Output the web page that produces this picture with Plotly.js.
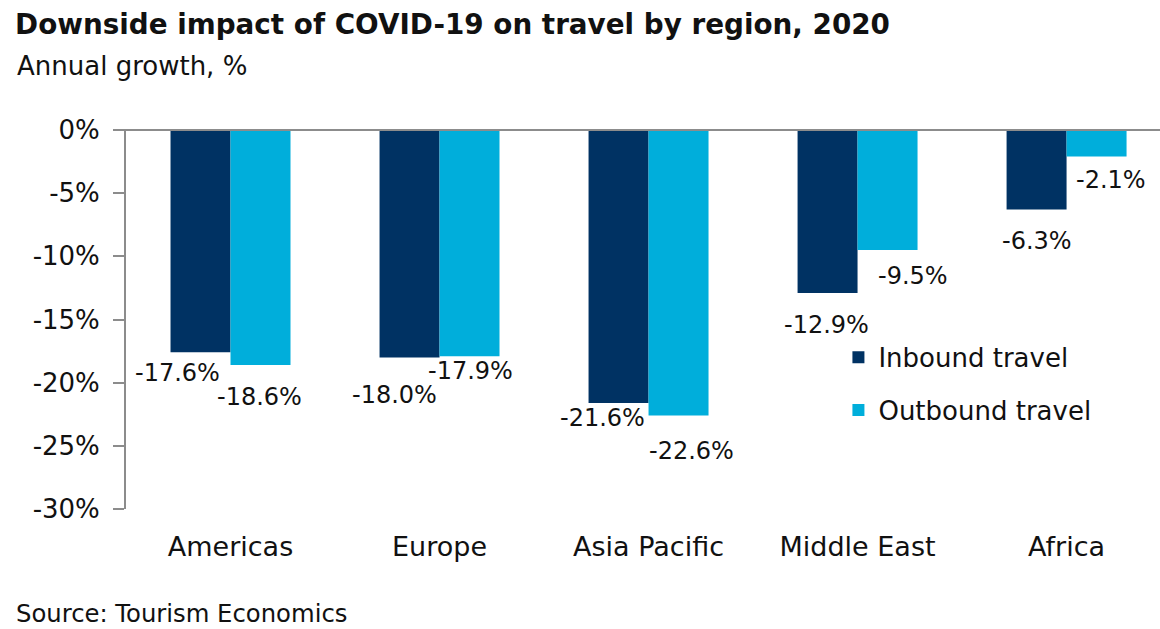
<!DOCTYPE html>
<html>
<head>
<meta charset="utf-8">
<script src="https://cdn.plot.ly/plotly-3.0.1.min.js"></script>
<style>html,body{margin:0;padding:0;background:#fff;}#chart{width:1160px;height:629px;}</style>
</head>
<body>
<div id="chart"></div>
<script>
// ---- data ----
const regions = ["Americas", "Europe", "Asia Pacific", "Middle East", "Africa"];
const inbound = [-17.6, -18.0, -21.6, -12.9, -6.3];
const outbound = [-18.6, -17.9, -22.6, -9.5, -2.1];
const inboundLabels = ["-17.6%", "-18.0%", "-21.6%", "-12.9%", "-6.3%"];
const outboundLabels = ["-18.6%", "-17.9%", "-22.6%", "-9.5%", "-2.1%"];
const yTickVals = [0, -5, -10, -15, -20, -25, -30];
const yTickText = ["0%", "-5%", "-10%", "-15%", "-20%", "-25%", "-30%"];

// ---- styles / label offsets (pixels) ----
const FONT = "DejaVu Sans, Liberation Sans, Arial, sans-serif";
const TXT = "#111111";
const C_IN = "#003263";
const C_OUT = "#00AEDB";
const GRID = "#8c8c8c";
const inOffsets = [[-53, -21], [-45, -38], [-46, -15], [-31, -32], [-30, -31]];
const outOffsets = [[29, -32], [31, -15], [43, -35], [55, -26], [44, -23]];

const traces = [
  {type: "bar", name: "Inbound travel", x: regions, y: inbound, marker: {color: C_IN}, legendgroup: "a", hoverinfo: "none"},
  {type: "bar", name: "Outbound travel", x: regions, y: outbound, marker: {color: C_OUT}, legendgroup: "b", hoverinfo: "none"}
];

const annotations = [];
regions.forEach((r, i) => {
  annotations.push({x: r, y: inbound[i], xref: "x", yref: "y", text: inboundLabels[i], showarrow: false,
    xanchor: "center", yanchor: "middle", xshift: inOffsets[i][0], yshift: inOffsets[i][1],
    font: {family: FONT, size: 24, color: TXT}});
  annotations.push({x: r, y: outbound[i], xref: "x", yref: "y", text: outboundLabels[i], showarrow: false,
    xanchor: "center", yanchor: "middle", xshift: outOffsets[i][0], yshift: outOffsets[i][1],
    font: {family: FONT, size: 24, color: TXT}});
});
annotations.push({xref: "paper", yref: "paper", x: -0.1073, y: 1.169, xanchor: "left", yanchor: "middle",
  text: "Annual growth, %", showarrow: false, font: {family: FONT, size: 26, color: TXT}});
annotations.push({xref: "paper", yref: "paper", x: -0.1073, y: -0.275, xanchor: "left", yanchor: "middle",
  text: "Source: Tourism Economics", showarrow: false, borderpad: 0, font: {family: FONT, size: 24.3, color: TXT}});

const layout = {
  width: 1160, height: 629,
  margin: {l: 126, r: 0, t: 130, b: 120, pad: 0},
  paper_bgcolor: "#ffffff", plot_bgcolor: "#ffffff",
  font: {family: FONT, color: TXT},
  title: {text: "<b>Downside impact of COVID-19 on travel by region, 2020</b>", x: 0.013, xref: "container", xanchor: "left",
    y: 0.962, yref: "container", yanchor: "middle", font: {family: FONT, size: 27.8, color: TXT}},
  barmode: "group", bargap: 0.426, bargroupgap: 0,
  xaxis: {range: [-0.5, 4.447], showline: false, showgrid: false, zeroline: false,
    ticks: "outside", ticklen: 14, tickcolor: "rgba(0,0,0,0)", tickfont: {family: FONT, size: 27, color: TXT}, fixedrange: true},
  yaxis: {range: [-30, 0], tickvals: yTickVals, ticktext: yTickText, showgrid: false, zeroline: false,
    showline: true, linecolor: GRID, linewidth: 2, ticks: "outside", ticklen: 11, tickwidth: 2, tickcolor: GRID,
    ticklabelstandoff: 8, tickfont: {family: FONT, size: 26, color: TXT}, fixedrange: true},
  shapes: [{type: "line", xref: "paper", yref: "paper", x0: -0.0106, x1: 1, y0: 1, y1: 1,
    line: {color: GRID, width: 2}, layer: "above"}],
  legend: {x: 0.689, xanchor: "left", y: 0.462, yanchor: "top", traceorder: "grouped", tracegroupgap: 16,
    bgcolor: "rgba(0,0,0,0)", font: {family: FONT, size: 26, color: TXT}},
  showlegend: true,
  annotations: annotations
};

Plotly.newPlot("chart", traces, layout, {displayModeBar: false, staticPlot: true});
</script>
</body>
</html>
